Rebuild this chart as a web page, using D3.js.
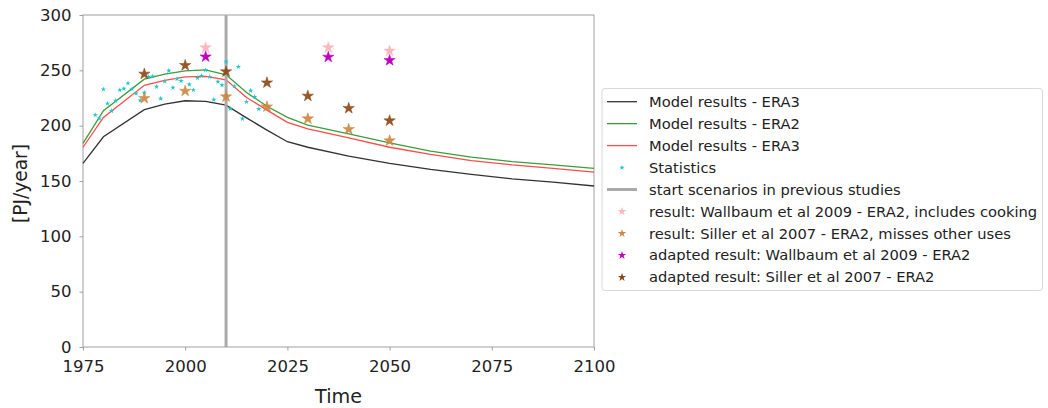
<!DOCTYPE html>
<html><head><meta charset="utf-8">
<script src="https://cdn.jsdelivr.net/npm/d3@7"></script>
<style>body{margin:0;background:#fff}svg{display:block}text{font-family:"DejaVu Sans",sans-serif;fill:#222}</style>
</head><body><svg id="c" width="1048" height="408"></svg>
<script>
const modelYears = [1975,1980,1990,1995,2000,2005,2010,2015,2020,2025,2030,2040,2050,2060,2070,2080,2090,2100];
const era3Black = [166,190,214.5,219.5,222.5,222,218.5,207,196,185.5,180.5,172.5,166,160.5,156,152,149,145.5];
const era2Green = [184,213.5,242,246.5,249.5,250.5,246,230,217.5,207.5,200.5,192.5,184.5,177,171.5,167.5,164.5,161.5];
const era3Red = [180.5,207.5,236.5,241,244,244.5,241.5,225.5,214,203,197,189,180.5,174,168.5,164.5,161.5,158];
const statYears = [1978,1979,1980,1981,1982,1983,1984,1985,1986,1987,1988,1989,1990,1991,1992,1993,1994,1995,1996,1997,1998,1999,2001,2002,2003,2004,2005,2006,2007,2008,2009,2010,2011,2012,2013,2014,2015,2016,2017,2018];
const statValues = [209.6,206.6,232.9,220,213.4,222.6,232.2,233.4,238.3,233.1,229.1,222.9,229.8,244,244.6,235.2,224.5,240.1,249.7,234.3,242.3,240.4,237.2,232.2,243.2,245.1,250.3,244.2,223.5,239.7,236.7,257.8,215.3,235.6,253.2,206.3,221.6,231.6,226.1,215.1];
const wallYears = [2005,2035,2050];
const wallValues = [270.5,270.5,267.5];
const wallAdapted = [262.3,262,259];
const sillerYears = [1990,2000,2010,2020,2030,2040,2050];
const sillerValues = [224.7,231.3,226.2,217.1,206.3,196.7,186.4];
const sillerAdapted = [246.7,254.5,248.8,238.8,226.8,215.7,204.5];
const scenarioStart = 2010;
const xTicks = [1975,2000,2025,2050,2075,2100];
const yTicks = [0,50,100,150,200,250,300];
const legendLabels = ["Model results - ERA3","Model results - ERA2","Model results - ERA3","Statistics","start scenarios in previous studies","result: Wallbaum et al 2009 - ERA2, includes cooking","result: Siller et al 2007 - ERA2, misses other uses","adapted result: Wallbaum et al 2009 - ERA2","adapted result: Siller et al 2007 - ERA2"];

const svg = d3.select("#c");
const L=83,R=594,T=15,B=347;
const x = d3.scaleLinear().domain([1975,2100]).range([L,R]);
const y = d3.scaleLinear().domain([0,300]).range([B,T]);
const axCol="#a0a0a0";

svg.append("rect").attr("x",L).attr("y",T).attr("width",R-L).attr("height",B-T).attr("fill","none").attr("stroke",axCol).attr("stroke-width",1);

const xa = svg.append("g").attr("transform",`translate(0,${B})`).call(d3.axisBottom(x).tickValues(xTicks).tickFormat(d3.format("d")).tickSize(3.5).tickPadding(9.5));
const ya = svg.append("g").attr("transform",`translate(${L},0)`).call(d3.axisLeft(y).tickValues(yTicks).tickSize(3.5).tickPadding(8));
[xa,ya].forEach(g=>{g.select(".domain").remove();g.selectAll("line").attr("stroke",axCol);g.selectAll("text").attr("font-size",16.5).attr("fill","#222").style("font-family","DejaVu Sans");});

svg.append("text").attr("x",(L+R)/2).attr("y",403).attr("text-anchor","middle").attr("font-size",19.2).text("Time");
svg.append("text").attr("transform",`translate(26.5,183.5) rotate(-90)`).attr("text-anchor","middle").attr("font-size",18.6).text("[PJ/year]");

const line = d3.line().x((d,i)=>x(modelYears[i])).y(d=>y(d));
const lines=[[era3Black,"#333333"],[era2Green,"#3a9e3a"],[era3Red,"#ff4b4b"]];
lines.forEach(([v,c])=>svg.append("path").attr("d",line(v)).attr("fill","none").attr("stroke",c).attr("stroke-width",1.3));

svg.append("line").attr("x1",x(scenarioStart)).attr("x2",x(scenarioStart)).attr("y1",T).attr("y2",B).attr("stroke","#aaaaaa").attr("stroke-width",3);

const star = (s)=>d3.symbol().type(d3.symbolStar).size(s)();
svg.selectAll(".st").data(statYears).join("path").attr("d",star(9)).attr("fill","#1fc7c7")
  .attr("transform",(d,i)=>`translate(${x(d)},${y(statValues[i])})`);
function stars(years,vals,col,op){
  svg.append("g").selectAll("path").data(years).join("path").attr("d",star(40)).attr("fill",col).attr("fill-opacity",op).attr("stroke",col).attr("stroke-width",0.5)
   .attr("transform",(d,i)=>`translate(${x(d)},${y(vals[i])})`);
}
stars(wallYears,wallValues,"#ffb6c1",1);
stars(sillerYears,sillerValues,"#cd853f",0.9);
stars(wallYears,wallAdapted,"#c000c0",1);
stars(sillerYears,sillerAdapted,"#8b4513",0.9);

const lg = svg.append("g");
lg.append("rect").attr("x",602).attr("y",88.5).attr("width",440.5).attr("height",202).attr("rx",3).attr("fill","#fff").attr("stroke","#d8d8d8");
const handles=[["line","#333333",1.3],["line","#3a9e3a",1.3],["line","#ff4b4b",1.3],["star","#1fc7c7",9],["line","#aaaaaa",3],["star","#ffb6c1",40],["star","#cd853f",40],["star","#c000c0",40],["star","#8b4513",40]];
legendLabels.forEach((t,i)=>{
  const cy=101.7+i*21.95;
  const h=handles[i];
  if(h[0]==="line") lg.append("line").attr("x1",607).attr("x2",637).attr("y1",cy).attr("y2",cy).attr("stroke",h[1]).attr("stroke-width",h[2]);
  else lg.append("path").attr("d",star(h[2]===40?22:h[2])).attr("fill",h[1]).attr("transform",`translate(622,${cy})`);
  lg.append("text").attr("x",649).attr("y",cy).attr("dy","0.35em").attr("font-size",14.7).text(t);
});
</script></body></html>
